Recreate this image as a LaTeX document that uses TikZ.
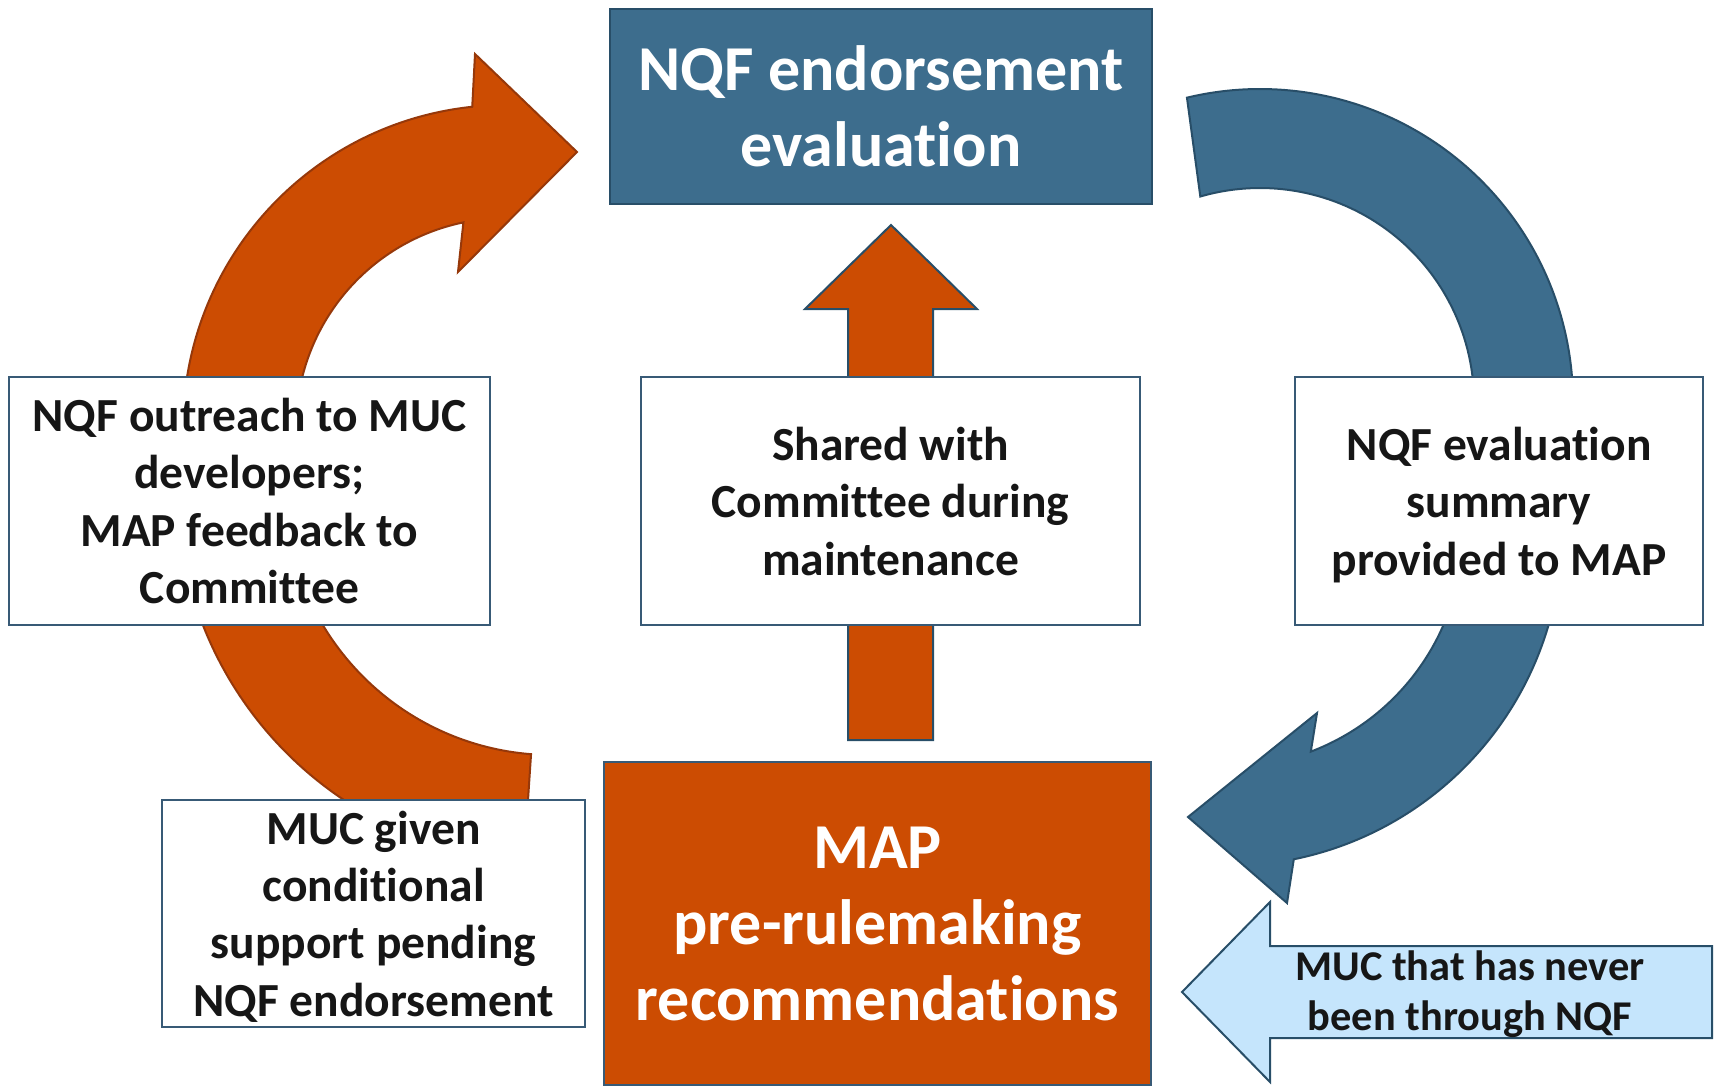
\documentclass[tikz,border=0pt]{standalone}
\usepackage{fontspec}
\setmainfont{Carlito}[Ligatures=NoCommon]
\usetikzlibrary{calc}
\definecolor{rust}{RGB}{204,76,2}
\definecolor{rustline}{RGB}{150,56,10}
\definecolor{steel}{RGB}{61,109,141}
\definecolor{steelline}{RGB}{40,78,104}
\definecolor{boxline}{RGB}{56,90,118}
\definecolor{paleblue}{RGB}{197,229,252}
\definecolor{ink}{RGB}{22,22,22}
\begin{document}
\begin{tikzpicture}[x=0.5pt,y=-0.5pt,
  textbox/.style={draw=boxline, line width=1.3pt, fill=white, inner sep=0pt,
    align=center, text=ink, text depth=0pt, font={\bfseries\fontsize{23.75pt}{28.7pt}\selectfont}},
  titlebox/.style={draw=steelline, line width=1.3pt, inner sep=0pt,
    align=center, text=white, font={\bfseries\fontsize{32pt}{38pt}\selectfont}},
  rustshape/.style={fill=rust, draw=rustline, line width=1pt},
  steelshape/.style={fill=steel, draw=steelline, line width=1pt},
]
\useasboundingbox (0,0) rectangle (1716,1087);

% centres of the curved block arrows
\coordinate (cb1) at (1260,402);
\coordinate (cb2) at (1227,531);
\coordinate (co1) at (506,428);
\coordinate (co2) at (552,488);

% right-hand blue loop: upper band
\path[steelshape] ($(cb1)+(-103.5:313)$) arc[start angle=-103.5, end angle=5, radius=313]
  -- ($(cb1)+(5:214)$) arc[start angle=5, end angle=-106.2, radius=214] -- cycle;
% right-hand blue loop: lower band with head
\path[steelshape] ($(cb2)+(5:335)$) arc[start angle=5, end angle=78.5, radius=335]
  -- (1287,903) -- (1188,817) -- (1317,713)
  -- ($(cb2)+(69.2:236)$) arc[start angle=69.2, end angle=5, radius=236] -- cycle;

% left-hand orange loop: upper band with head
\path[rustshape] ($(co1)+(185:323)$) arc[start angle=185, end angle=264, radius=323]
  -- (475,54) -- (577,152) -- (458,272)
  -- ($(co1)+(258.3:210)$) arc[start angle=258.3, end angle=185, radius=210] -- cycle;
% left-hand orange loop: lower band
\path[rustshape] ($(co2)+(170:375)$) arc[start angle=170, end angle=94.3, radius=375]
  -- ($(co2)+(94.5:267)$) arc[start angle=94.5, end angle=170, radius=267] -- cycle;

% straight up arrow through the middle
\path[fill=rust, draw=steelline, line width=1pt]
  (848,740) -- (848,309) -- (805,309) -- (891,225) -- (977,309) -- (933,309) -- (933,740) -- cycle;

% incoming arrow at the lower right
\path[fill=paleblue, draw=steelline, line width=1pt]
  (1712,946) -- (1270,946) -- (1270,902) -- (1182,992) -- (1270,1082) -- (1270,1038) -- (1712,1038) -- cycle;
\node[text=ink, align=center, font={\bfseries\fontsize{21.2pt}{25pt}\selectfont}] (newmuc) at (1470,994)
  {MUC that has never\\been through NQF};

% boxes
\node[titlebox, fill=steel, minimum width=271pt, minimum height=97.5pt] (eval) at (881,106.5)
  {NQF endorsement\\evaluation};
\node[titlebox, fill=rust, draw=boxline, minimum width=273.5pt, minimum height=161.5pt] (map) at (877.5,923.5)
  {MAP\\pre-rulemaking\\recommendations};
\node[textbox, minimum width=240.5pt, minimum height=124pt] (outreach) at (249.5,501)
  {NQF outreach to MUC\\developers;\\MAP feedback to\\Committee};
\node[textbox, minimum width=249.5pt, minimum height=124pt] (shared) at (890.5,501)
  {Shared with\\Committee during\\maintenance};
\node[textbox, minimum width=204pt, minimum height=124pt] (summary) at (1499,501)
  {NQF evaluation\\summary\\provided to MAP};
\node[textbox, minimum width=211.5pt, minimum height=113.5pt] (conditional) at (373.5,913.5)
  {MUC given\\conditional\\support pending\\NQF endorsement};
\end{tikzpicture}
\end{document}
